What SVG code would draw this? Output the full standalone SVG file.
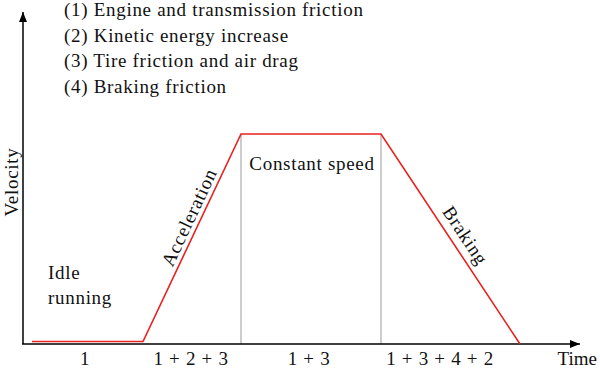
<svg xmlns="http://www.w3.org/2000/svg" width="600" height="368" viewBox="0 0 600 368">
<defs>
<marker id="ah" viewBox="0 0 10 10" refX="10" refY="5" markerWidth="10" markerHeight="10" markerUnits="userSpaceOnUse" orient="auto">
<path d="M0,1 L10,5 L0,9 Z" fill="#000"/>
</marker>
</defs>
<style>
text{font-family:"Liberation Serif","Times New Roman",serif;font-size:19px;letter-spacing:0.7px;fill:#111}
.axis{stroke:#000;stroke-width:1.5;fill:none}
.grid{stroke:#aaa;stroke-width:1.2;fill:none}
.curve{stroke:#e8211f;stroke-width:1.6;fill:none;stroke-linejoin:miter}
</style>
<rect width="600" height="368" fill="#fff"/>
<g id="legend">
<text x="64" y="16">(1) Engine and transmission friction</text>
<text x="64" y="41.5">(2) Kinetic energy increase</text>
<text x="64" y="67">(3) Tire friction and air drag</text>
<text x="64" y="92.5">(4) Braking friction</text>
</g>
<g id="connectors">
<line class="grid" x1="241" y1="134" x2="241" y2="344"/>
<line class="grid" x1="381" y1="134" x2="381" y2="344"/>
<line class="axis" x1="23" y1="344" x2="23" y2="12" marker-end="url(#ah)"/>
<line class="axis" x1="22" y1="344" x2="580" y2="344" marker-end="url(#ah)"/>
<polyline class="curve" points="32,341.5 143,341.5 241,134 381,134 520,344"/>
</g>
<g id="axis-labels">
<text x="0" y="0" transform="translate(18,182) rotate(-90)" text-anchor="middle">Velocity</text>
<text x="597" y="365" text-anchor="end" style="letter-spacing:0">Time</text>
</g>
<g id="phase-labels">
<text x="85" y="365" text-anchor="middle">1</text>
<text x="191" y="365" text-anchor="middle">1 + 2 + 3</text>
<text x="309" y="365" text-anchor="middle">1 + 3</text>
<text x="440" y="365" text-anchor="middle">1 + 3 + 4 + 2</text>
</g>
<g id="segment-labels">
<text x="48" y="279">Idle</text>
<text x="48" y="304">running</text>
<text x="0" y="0" transform="translate(195,220) rotate(-64.8)" text-anchor="middle">Acceleration</text>
<text x="312" y="170" text-anchor="middle">Constant speed</text>
<text x="0" y="0" transform="translate(460,239) rotate(56.5)" text-anchor="middle">Braking</text>
</g>
</svg>
